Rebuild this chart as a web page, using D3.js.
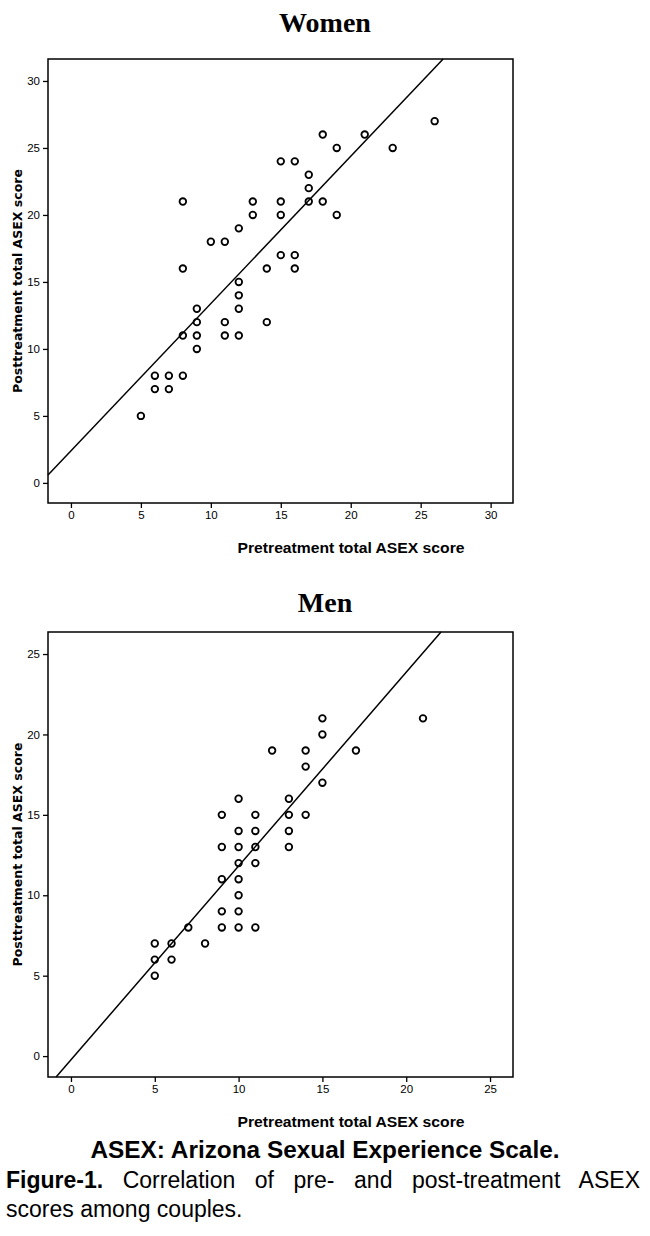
<!DOCTYPE html>
<html><head><meta charset="UTF-8">
<script src="https://d3js.org/d3.v7.min.js"></script>
<style>body{margin:0;background:#fff}svg{display:block}</style>
</head><body>
<script>
// Women: [pre, post]
const womenPre  = [5,6,6,7,7,8,8,8,8,9,9,9,9,10,11,11,11,12,12,12,12,12,13,13,14,14,15,15,15,15,16,16,16,17,17,17,18,18,19,19,21,23,26];
const womenPost = [5,8,7,8,7,8,11,16,21,13,12,11,10,18,18,12,11,19,15,14,13,11,21,20,16,12,24,21,20,17,24,17,16,23,22,21,26,21,25,20,26,25,27];
const menPre  = [5,5,5,6,6,7,8,9,9,9,9,9,10,10,10,10,10,10,10,10,11,11,11,11,11,12,13,13,13,13,14,14,14,15,15,15,17,21];
const menPost = [7,6,5,7,6,8,7,15,13,11,9,8,16,14,13,12,11,10,9,8,15,14,13,12,8,19,16,15,14,13,19,18,15,21,20,17,19,21];
const womenTicks = [0,5,10,15,20,25,30];
const menTicks = [0,5,10,15,20,25];
const womenFit = {a: 2.4, b: 1.099};
const menFit = {a: -0.23, b: 1.205};

const svg = d3.select("body").append("svg").attr("width",650).attr("height",1236);

function panel(cfg){
  const x = d3.scaleLinear().domain(cfg.xd).range([48,513]);
  const y = d3.scaleLinear().domain(cfg.yd).range([cfg.bottom,cfg.top]);
  svg.append("text").attr("x",325).attr("y",cfg.titleY).attr("text-anchor","middle")
    .attr("font-family","Liberation Serif").attr("font-weight","bold").attr("font-size",28).text(cfg.title);
  svg.append("rect").attr("x",48).attr("y",cfg.top).attr("width",465).attr("height",cfg.bottom-cfg.top)
    .attr("fill","none").attr("stroke","#000").attr("stroke-width",1.5);
  const ax = svg.append("g").attr("transform",`translate(0,${cfg.bottom})`)
    .call(d3.axisBottom(x).tickValues(cfg.ticks).tickSize(5).tickSizeOuter(0));
  const ay = svg.append("g").attr("transform","translate(48,0)")
    .call(d3.axisLeft(y).tickValues(cfg.ticks).tickSize(5).tickSizeOuter(0));
  [ax,ay].forEach(g=>{g.select(".domain").remove();
    g.selectAll("text").attr("font-family","Liberation Sans").attr("font-size",11.5).attr("fill","#000");
    g.selectAll("line").attr("stroke","#000").attr("stroke-width",1.3);});
  svg.append("text").attr("x",351).attr("y",cfg.bottom+50).attr("text-anchor","middle")
    .attr("font-family","Liberation Sans").attr("font-weight","bold").attr("font-size",14.5)
    .attr("textLength",227).attr("lengthAdjust","spacingAndGlyphs").text("Pretreatment total ASEX score");
  svg.append("text").attr("transform",`translate(22,${(cfg.top+cfg.bottom)/2}) rotate(-90)`).attr("text-anchor","middle")
    .attr("font-family","DejaVu Sans").attr("font-weight","bold").attr("font-size",12.5).text("Posttreatment total ASEX score");
  // fit line clipped to frame
  const x0 = cfg.xd[0], y0 = cfg.fit.a + cfg.fit.b*x0;
  const p0 = y0 < cfg.yd[0] ? [(cfg.yd[0]-cfg.fit.a)/cfg.fit.b, cfg.yd[0]] : [x0,y0];
  const p1 = [(cfg.yd[1]-cfg.fit.a)/cfg.fit.b, cfg.yd[1]];
  svg.append("line").attr("x1",x(p0[0])).attr("y1",y(p0[1])).attr("x2",x(p1[0])).attr("y2",y(p1[1]))
    .attr("stroke","#000").attr("stroke-width",1.5);
  svg.append("g").selectAll("circle").data(cfg.pre).join("circle")
    .attr("cx",d=>x(d)).attr("cy",(d,i)=>y(cfg.post[i])).attr("r",3.3)
    .attr("fill","none").attr("stroke","#000").attr("stroke-width",1.8);
}

panel({title:"Women",titleY:32,top:59,bottom:503,xd:[-1.64,31.6],yd:[-1.5,31.64],ticks:womenTicks,fit:womenFit,pre:womenPre,post:womenPost});
panel({title:"Men",titleY:612,top:632,bottom:1077,xd:[-1.37,26.37],yd:[-1.3,26.37],ticks:menTicks,fit:menFit,pre:menPre,post:menPost});

const cap = svg.append("g").attr("font-family","Liberation Sans").attr("font-size",23).attr("fill","#000");
cap.append("text").attr("x",325).attr("y",1158).attr("text-anchor","middle").attr("font-weight","bold")
  .attr("textLength",469).attr("lengthAdjust","spacingAndGlyphs")
  .text("ASEX: Arizona Sexual Experience Scale.");
const l2 = cap.append("text").attr("x",6).attr("y",1188);
l2.append("tspan").attr("font-weight","bold").text("Figure-1.");
l2.append("tspan").text(" Correlation of pre- and post-treatment ASEX");
// justify line 2 by widening the gaps between words
const natural = l2.node().getComputedTextLength();
l2.attr("word-spacing", (640 - 6 - natural) / 6);
cap.append("text").attr("x",6).attr("y",1217).text("scores among couples.");
</script>
</body></html>
